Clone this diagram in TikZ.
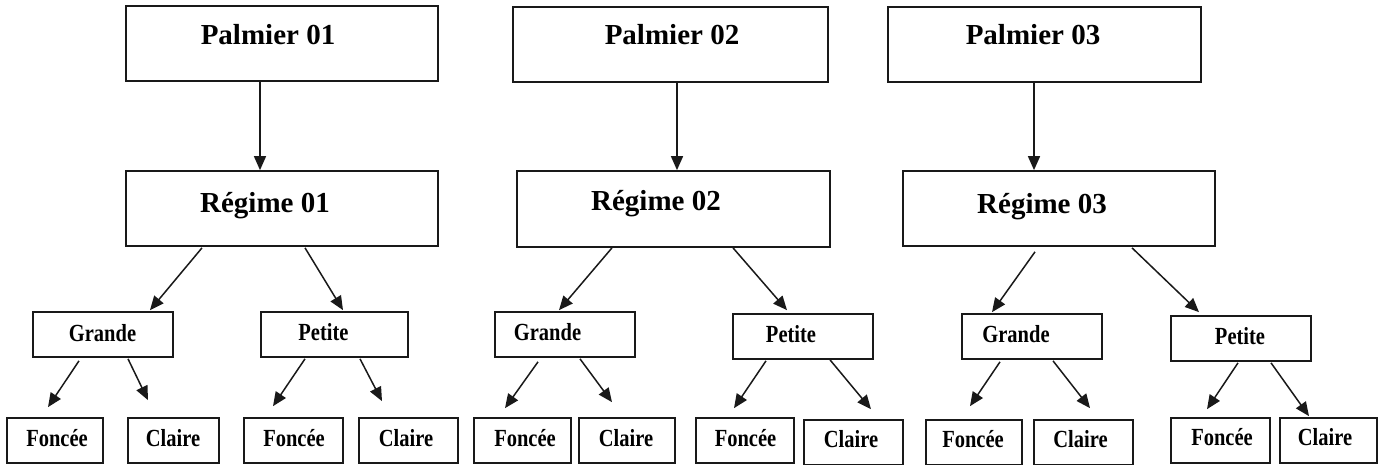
\documentclass[tikz,border=0pt]{standalone}
\usepackage{fontspec}
\usepackage{graphicx}
\setmainfont{Liberation Serif}
\usetikzlibrary{arrows.meta}
\newcommand{\stretchtxt}[1]{\scalebox{1}[1.2]{#1}}
\begin{document}
\begin{tikzpicture}[x=1pt,y=-1pt,
  boxs/.style={draw=black!90, line width=1.7pt, inner sep=0pt, fill=none},
  bigtxt/.style={anchor=base, inner sep=0pt, font=\fontsize{29}{32}\selectfont\bfseries},
  smalltxt/.style={anchor=base, inner sep=0pt, font=\fontsize{20.5}{22}\selectfont\bfseries},
  arr/.style={draw=black!90, line width=1.5pt, -{Triangle[length=14pt,width=12pt]}}]
\useasboundingbox (0,0) rectangle (1386,465);
% top boxes
\node[boxs, minimum width=312pt, minimum height=75pt] (P1) at (282,43.5) {};
\node[boxs, minimum width=315pt, minimum height=75pt] (P2) at (670.5,44.5) {};
\node[boxs, minimum width=313pt, minimum height=75pt] (P3) at (1044.5,44.5) {};
\node[bigtxt] (P1t) at (268,45) {Palmier 01};
\node[bigtxt] (P2t) at (672,45) {Palmier 02};
\node[bigtxt] (P3t) at (1033,45) {Palmier 03};
% regime boxes
\node[boxs, minimum width=312pt, minimum height=75pt] (R1) at (282,208.5) {};
\node[boxs, minimum width=313pt, minimum height=76pt] (R2) at (673.5,209) {};
\node[boxs, minimum width=312pt, minimum height=75pt] (R3) at (1059,208.5) {};
\node[bigtxt] (R1t) at (265,212) {Régime 01};
\node[bigtxt] (R2t) at (656,211) {Régime 02};
\node[bigtxt] (R3t) at (1042,213) {Régime 03};
% grande / petite
\node[boxs, minimum width=140pt, minimum height=45pt] (G1) at (103,334.5) {};
\node[boxs, minimum width=147pt, minimum height=45pt] (Q1) at (334.5,334.5) {};
\node[boxs, minimum width=140pt, minimum height=45pt] (G2) at (565,334.5) {};
\node[boxs, minimum width=140pt, minimum height=45pt] (Q2) at (803,336.5) {};
\node[boxs, minimum width=140pt, minimum height=45pt] (G3) at (1032,336.5) {};
\node[boxs, minimum width=140pt, minimum height=45pt] (Q3) at (1241,338.5) {};
\node[smalltxt] (G1t) at (102.5,341) {\stretchtxt{Grande}};
\node[smalltxt] (Q1t) at (323.5,340) {\stretchtxt{Petite}};
\node[smalltxt] (G2t) at (547.5,340) {\stretchtxt{Grande}};
\node[smalltxt] (Q2t) at (791,342) {\stretchtxt{Petite}};
\node[smalltxt] (G3t) at (1016,342) {\stretchtxt{Grande}};
\node[smalltxt] (Q3t) at (1240,344) {\stretchtxt{Petite}};
% foncee / claire
\node[boxs, minimum width=96pt, minimum height=45pt] (F1) at (55,440.5) {};
\node[boxs, minimum width=91pt, minimum height=45pt] (C1) at (173.5,440.5) {};
\node[boxs, minimum width=99pt, minimum height=45pt] (F2) at (293.5,440.5) {};
\node[boxs, minimum width=99pt, minimum height=45pt] (C2) at (408.5,440.5) {};
\node[boxs, minimum width=97pt, minimum height=45pt] (F3) at (522.5,440.5) {};
\node[boxs, minimum width=96pt, minimum height=45pt] (C3) at (627,440.5) {};
\node[boxs, minimum width=98pt, minimum height=45pt] (F4) at (745,440.5) {};
\node[boxs, minimum width=99pt, minimum height=45pt] (C4) at (853.5,442.5) {};
\node[boxs, minimum width=96pt, minimum height=45pt] (F5) at (974,442.5) {};
\node[boxs, minimum width=99pt, minimum height=45pt] (C5) at (1083.5,442.5) {};
\node[boxs, minimum width=99pt, minimum height=45pt] (F6) at (1220.5,440.5) {};
\node[boxs, minimum width=97pt, minimum height=45pt] (C6) at (1328.5,440.5) {};
\node[smalltxt] (F1t) at (57,446) {\stretchtxt{Foncée}};
\node[smalltxt] (C1t) at (173,446) {\stretchtxt{Claire}};
\node[smalltxt] (F2t) at (294,446) {\stretchtxt{Foncée}};
\node[smalltxt] (C2t) at (406,446) {\stretchtxt{Claire}};
\node[smalltxt] (F3t) at (525,446) {\stretchtxt{Foncée}};
\node[smalltxt] (C3t) at (626,446) {\stretchtxt{Claire}};
\node[smalltxt] (F4t) at (745.5,446) {\stretchtxt{Foncée}};
\node[smalltxt] (C4t) at (851,447) {\stretchtxt{Claire}};
\node[smalltxt] (F5t) at (973,447) {\stretchtxt{Foncée}};
\node[smalltxt] (C5t) at (1080.5,447) {\stretchtxt{Claire}};
\node[smalltxt] (F6t) at (1222,445) {\stretchtxt{Foncée}};
\node[smalltxt] (C6t) at (1325,445) {\stretchtxt{Claire}};
% arrows palmier -> regime
\draw[arr] ([xshift=-22pt]P1.south) -- ([xshift=-22pt]R1.north);
\draw[arr] ([xshift=6.5pt]P2.south) -- ([xshift=3.5pt]R2.north);
\draw[arr] ([xshift=-10.5pt]P3.south) -- ([xshift=-25pt]R3.north);
% regime -> grande/petite
\draw[arr] ([xshift=-80pt,yshift=-1pt]R1.south) -- ([xshift=47pt,yshift=1pt]G1.north);
\draw[arr] ([xshift=23pt,yshift=-1pt]R1.south) -- ([xshift=8.5pt,yshift=1pt]Q1.north);
\draw[arr] ([xshift=-61.5pt]R2.south) -- ([xshift=-6pt,yshift=1pt]G2.north);
\draw[arr] ([xshift=59.5pt]R2.south) -- ([xshift=-16pt,yshift=3pt]Q2.north);
\draw[arr] ([xshift=-24pt,yshift=-5pt]R3.south) -- ([xshift=-40pt,yshift=1pt]G3.north);
\draw[arr] ([xshift=73pt,yshift=-1pt]R3.south) -- ([xshift=-42pt,yshift=3pt]Q3.north);
% grande/petite -> foncee/claire
\draw[arr] ([xshift=-24pt,yshift=-3pt]G1.south) -- ([xshift=-7pt,yshift=10pt]F1.north);
\draw[arr] ([xshift=25pt,yshift=-1pt]G1.south) -- ([xshift=-25.5pt,yshift=17pt]C1.north);
\draw[arr] ([xshift=-29.5pt,yshift=-1pt]Q1.south) -- ([xshift=-20.5pt,yshift=11pt]F2.north);
\draw[arr] ([xshift=25.5pt,yshift=-1pt]Q1.south) -- ([xshift=-26.5pt,yshift=16pt]C2.north);
\draw[arr] ([xshift=-27pt,yshift=-4pt]G2.south) -- ([xshift=-17.5pt,yshift=9pt]F3.north);
\draw[arr] ([xshift=15pt,yshift=-1pt]G2.south) -- ([xshift=-15pt,yshift=15pt]C3.north);
\draw[arr] ([xshift=-37pt,yshift=-1pt]Q2.south) -- ([xshift=-11pt,yshift=9pt]F4.north);
\draw[arr] ([xshift=27pt]Q2.south) -- ([xshift=17.5pt,yshift=10pt]C4.north);
\draw[arr] ([xshift=-32pt,yshift=-2pt]G3.south) -- ([xshift=-4pt,yshift=13pt]F5.north);
\draw[arr] ([xshift=21pt,yshift=-1pt]G3.south) -- ([xshift=6.5pt,yshift=11pt]C5.north);
\draw[arr] ([xshift=-3pt,yshift=-1pt]Q3.south) -- ([xshift=-13.5pt,yshift=8pt]F6.north);
\draw[arr] ([xshift=30pt,yshift=-1pt]Q3.south) -- ([xshift=-19.5pt,yshift=1pt]C6.north);
\end{tikzpicture}
\end{document}
